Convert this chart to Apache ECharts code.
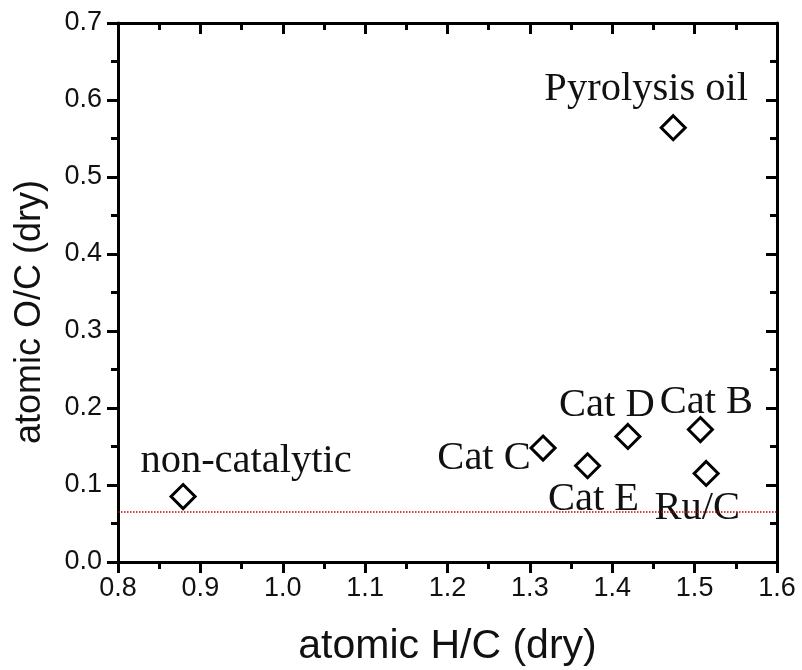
<!DOCTYPE html>
<html>
<head>
<meta charset="utf-8">
<script src="https://cdn.jsdelivr.net/npm/echarts@6/dist/echarts.min.js"></script>
<style>html,body{margin:0;padding:0;background:#fff}#c{width:802px;height:670px}</style>
</head>
<body>
<div id="c"></div>
<script>
// ---- data ----
const names = ['non-catalytic', 'Cat C', 'Cat E', 'Cat D', 'Pyrolysis oil', 'Cat B', 'Ru/C'];
const hc = [0.879, 1.316, 1.370, 1.419, 1.474, 1.507, 1.514];
const oc = [0.085, 0.148, 0.125, 0.163, 0.564, 0.172, 0.115];
const refLineOC = 0.065;
const xTicks = [0.8, 0.9, 1.0, 1.1, 1.2, 1.3, 1.4, 1.5, 1.6];
const yTicks = [0.0, 0.1, 0.2, 0.3, 0.4, 0.5, 0.6, 0.7];
const xTitle = 'atomic H/C (dry)';
const yTitle = 'atomic O/C (dry)';

// label placement (style, not data)
const labelOffset = {
  'non-catalytic': [63, -35],
  'Cat C': [-59, 10],
  'Cat E': [6, 34],
  'Cat D': [-21, -31],
  'Pyrolysis oil': [-27, -38],
  'Cat B': [6, -27],
  'Ru/C': [-9, 35]
};

const chart = echarts.init(document.getElementById('c'));
const sans = 'Liberation Sans, Arial, sans-serif';
const serif = 'Liberation Serif, Times New Roman, serif';

const points = names.map((n, i) => ({
  name: n,
  value: [hc[i], oc[i]],
  label: { offset: labelOffset[n] }
}));

function axisBase(extra) {
  return Object.assign({
    axisLine: { show: true, onZero: false, lineStyle: { color: '#000', width: 3 } },
    splitLine: { show: false },
    minorSplitLine: { show: false }
  }, extra);
}

chart.setOption({
  animation: false,
  backgroundColor: '#fff',
  grid: { left: 118, right: 25, top: 23, bottom: 108, outerBoundsMode: 'none', containLabel: false },
  graphic: [{
    type: 'text',
    x: 30, y: 312,
    rotation: Math.PI / 2,
    style: {
      text: yTitle, fontFamily: sans, fontSize: 36, fill: '#111',
      align: 'center', verticalAlign: 'middle'
    },
    silent: true
  }],
  xAxis: [
    axisBase({
      type: 'value', min: xTicks[0], max: xTicks[xTicks.length - 1], interval: 0.1,
      position: 'bottom',
      name: xTitle, nameLocation: 'middle', nameGap: 64,
      nameTextStyle: { fontFamily: sans, fontSize: 41, color: '#111' },
      axisTick: { show: true, inside: false, length: 11, lineStyle: { color: '#000', width: 3 } },
      minorTick: { show: true, splitNumber: 2, length: 7, lineStyle: { color: '#000', width: 3 } },
      axisLabel: { fontFamily: sans, fontSize: 27, color: '#111', margin: 13, formatter: v => v.toFixed(1) }
    }),
    axisBase({
      type: 'value', min: xTicks[0], max: xTicks[xTicks.length - 1], interval: 0.1,
      position: 'top',
      axisTick: { show: true, inside: true, length: 11, lineStyle: { color: '#000', width: 3 } },
      minorTick: { show: true, splitNumber: 2, length: 7, lineStyle: { color: '#000', width: 3 } },
      axisLabel: { show: false }
    })
  ],
  yAxis: [
    axisBase({
      type: 'value', min: yTicks[0], max: yTicks[yTicks.length - 1], interval: 0.1,
      position: 'left',
      axisTick: { show: true, inside: false, length: 11, lineStyle: { color: '#000', width: 3 } },
      minorTick: { show: true, splitNumber: 2, length: 7, lineStyle: { color: '#000', width: 3 } },
      axisLabel: { fontFamily: sans, fontSize: 27, color: '#111', margin: 16, formatter: v => v.toFixed(1) }
    }),
    axisBase({
      type: 'value', min: yTicks[0], max: yTicks[yTicks.length - 1], interval: 0.1,
      position: 'right',
      axisTick: { show: true, inside: true, length: 11, lineStyle: { color: '#000', width: 3 } },
      minorTick: { show: true, splitNumber: 2, length: 7, lineStyle: { color: '#000', width: 3 } },
      axisLabel: { show: false }
    })
  ],
  series: [{
    type: 'scatter',
    xAxisIndex: 0, yAxisIndex: 0,
    symbol: 'diamond',
    symbolSize: 24,
    itemStyle: { color: '#fff', borderColor: '#000', borderWidth: 3, opacity: 1 },
    label: {
      show: true, position: 'inside', formatter: p => p.name,
      fontFamily: serif, fontSize: 40.5, color: '#111',
      align: 'center', verticalAlign: 'middle'
    },
    emphasis: { disabled: true },
    data: points,
    markLine: {
      silent: true, symbol: 'none', animation: false, precision: 4,
      label: { show: false },
      lineStyle: { color: '#cc0000', type: 'dotted', width: 1.5 },
      data: [{ yAxis: refLineOC }]
    }
  }]
});
</script>
</body>
</html>
